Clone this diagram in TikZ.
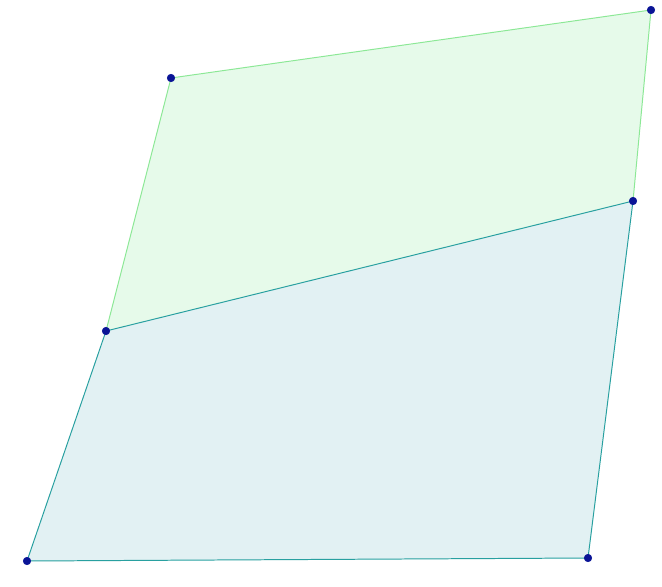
\documentclass[tikz,border=0pt]{standalone}
\usepackage{tikz}
\usetikzlibrary{positioning, calc}
\usepackage{xcolor}
\definecolor{upline}{RGB}{140,232,150}
\definecolor{upfill}{RGB}{230,250,234}
\definecolor{lowline}{RGB}{40,160,160}
\definecolor{lowfill}{RGB}{226,241,243}
\definecolor{dotblue}{RGB}{10,20,150}
\tikzset{
    vertex/.style={
        circle,
        draw=dotblue,
        fill=dotblue,
        inner sep=1.9pt
    },
    upedge/.style={
        line width=0.7pt,
        upline
    },
    lowedge/.style={
        line width=0.7pt,
        lowline
    }
}
\begin{document}
\begin{tikzpicture}

      \useasboundingbox (0,0) rectangle (16.55,14.65);

      \coordinate (a) at (4.275,12.7);
      \coordinate (b) at (16.275,14.4);
      \coordinate (c) at (15.825,9.625);
      \coordinate (d) at (2.65,6.375);
      \coordinate (e) at (0.675,0.625);
      \coordinate (f) at (14.7,0.7);

      % the two faces
      \fill[upfill] (a) -- (b) -- (c) -- (d) -- cycle;
      \fill[lowfill] (d) -- (c) -- (f) -- (e) -- cycle;

      \draw[upedge] (d) -- (a) -- (b) -- (c);
      \draw[lowedge] (d) -- (c) -- (f) -- (e) -- cycle;

      \node[vertex] (A) at (a) {};
      \node[vertex] (B) at (b) {};
      \node[vertex] (C) at (c) {};
      \node[vertex] (D) at (d) {};
      \node[vertex] (E) at (e) {};
      \node[vertex] (F) at (f) {};

\end{tikzpicture}
\end{document}
